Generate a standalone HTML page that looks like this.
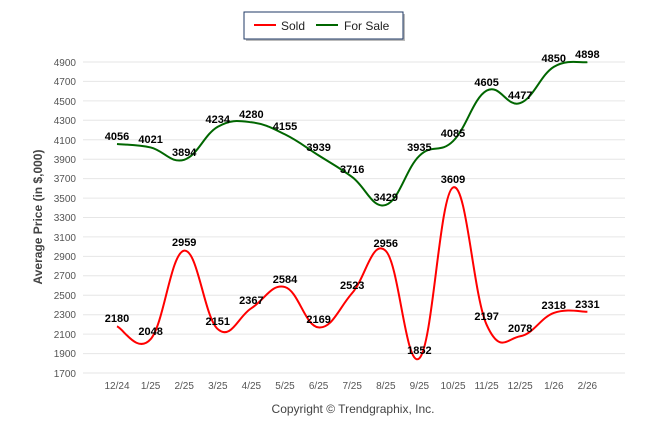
<!DOCTYPE html>
<html><head><meta charset="utf-8"><style>
body{margin:0;background:#fff;}
svg{display:block;font-family:"Liberation Sans",sans-serif;}
.t{font-size:10px;fill:#555;}
.l{font-size:11px;font-weight:bold;fill:#000;text-anchor:middle;}
</style></head><body>
<svg id="s" width="646" height="434" viewBox="0 0 646 434">
<rect x="246" y="14" width="159" height="27" fill="#bbb"/>
<rect x="244" y="12" width="159" height="27" fill="#fff" stroke="#1f3864" stroke-width="1"/>
<line x1="254" y1="25" x2="276" y2="25" stroke="#f00" stroke-width="2"/>
<text x="281" y="30" font-size="12" fill="#222">Sold</text>
<line x1="316" y1="25" x2="338" y2="25" stroke="#060" stroke-width="2"/>
<text x="344" y="30" font-size="12" fill="#222">For Sale</text>
<g stroke="#e6e6e6" stroke-width="1">
<line x1="83" x2="625" y1="62" y2="62"/><line x1="83" x2="625" y1="81.4" y2="81.4"/><line x1="83" x2="625" y1="100.9" y2="100.9"/><line x1="83" x2="625" y1="120.3" y2="120.3"/><line x1="83" x2="625" y1="139.8" y2="139.8"/><line x1="83" x2="625" y1="159.2" y2="159.2"/><line x1="83" x2="625" y1="178.6" y2="178.6"/><line x1="83" x2="625" y1="198.1" y2="198.1"/><line x1="83" x2="625" y1="217.5" y2="217.5"/><line x1="83" x2="625" y1="236.9" y2="236.9"/><line x1="83" x2="625" y1="256.4" y2="256.4"/><line x1="83" x2="625" y1="275.8" y2="275.8"/><line x1="83" x2="625" y1="295.3" y2="295.3"/><line x1="83" x2="625" y1="314.7" y2="314.7"/><line x1="83" x2="625" y1="334.1" y2="334.1"/><line x1="83" x2="625" y1="353.6" y2="353.6"/><line x1="83" x2="625" y1="373" y2="373"/>
</g>
<g class="t" text-anchor="end">
<text x="76" y="66">4900</text><text x="76" y="85">4700</text><text x="76" y="105">4500</text><text x="76" y="124">4300</text><text x="76" y="144">4100</text><text x="76" y="163">3900</text><text x="76" y="182">3700</text><text x="76" y="202">3500</text><text x="76" y="221">3300</text><text x="76" y="241">3100</text><text x="76" y="260">2900</text><text x="76" y="279">2700</text><text x="76" y="299">2500</text><text x="76" y="318">2300</text><text x="76" y="338">2100</text><text x="76" y="357">1900</text><text x="76" y="377">1700</text>
</g>
<g class="t" text-anchor="middle">
<text x="117" y="389">12/24</text><text x="150.6" y="389">1/25</text><text x="184.2" y="389">2/25</text><text x="217.8" y="389">3/25</text><text x="251.4" y="389">4/25</text><text x="285" y="389">5/25</text><text x="318.6" y="389">6/25</text><text x="352.2" y="389">7/25</text><text x="385.8" y="389">8/25</text><text x="419.4" y="389">9/25</text><text x="453" y="389">10/25</text><text x="486.6" y="389">11/25</text><text x="520.2" y="389">12/25</text><text x="553.8" y="389">1/26</text><text x="587.4" y="389">2/26</text>
</g>
<text x="42" y="217" transform="rotate(-90 42 217)" text-anchor="middle" font-size="12" font-weight="bold" fill="#444">Average Price (in $,000)</text>
<text x="353" y="413" text-anchor="middle" font-size="12" fill="#444">Copyright © Trendgraphix, Inc.</text>
<path id="fs" fill="none" stroke="#060" stroke-width="2"/>
<path id="sd" fill="none" stroke="#f00" stroke-width="2"/>
<g class="l">
<text x="117" y="140">4056</text><text x="150.6" y="143">4021</text><text x="184.2" y="156">3894</text><text x="217.8" y="123">4234</text><text x="251.4" y="118">4280</text><text x="285" y="130">4155</text><text x="318.6" y="151">3939</text><text x="352.2" y="173">3716</text><text x="385.8" y="201">3429</text><text x="419.4" y="151">3935</text><text x="453" y="137">4085</text><text x="486.6" y="86">4605</text><text x="520.2" y="99">4477</text><text x="553.8" y="62">4850</text><text x="587.4" y="58">4898</text>
<text x="117" y="322">2180</text><text x="150.6" y="335">2048</text><text x="184.2" y="246">2959</text><text x="217.8" y="325">2151</text><text x="251.4" y="304">2367</text><text x="285" y="283">2584</text><text x="318.6" y="323">2169</text><text x="352.2" y="289">2523</text><text x="385.8" y="247">2956</text><text x="419.4" y="354">1852</text><text x="453" y="183">3609</text><text x="486.6" y="320">2197</text><text x="520.2" y="332">2078</text><text x="553.8" y="309">2318</text><text x="587.4" y="308">2331</text>
</g>
</svg>
<script>
function path(v){var p=v.map(function(a,i){return [117+33.6*i,62+(4900-a)*0.09719];});
var d="M"+p[0][0]+","+p[0][1],t=0.2;
for(var i=0;i<p.length-1;i++){var a=p[i-1]||p[i],b=p[i],c=p[i+1],e=p[i+2]||c;
d+=" C"+(b[0]+(c[0]-a[0])*t)+","+(b[1]+(c[1]-a[1])*t)+" "+(c[0]-(e[0]-b[0])*t)+","+(c[1]-(e[1]-b[1])*t)+" "+c[0]+","+c[1];}
return d;}
document.getElementById("fs").setAttribute("d",path([4056,4021,3894,4234,4280,4155,3939,3716,3429,3935,4085,4605,4477,4850,4898]));
document.getElementById("sd").setAttribute("d",path([2180,2048,2959,2151,2367,2584,2169,2523,2956,1852,3609,2197,2078,2318,2331]));
</script>
</body></html>
